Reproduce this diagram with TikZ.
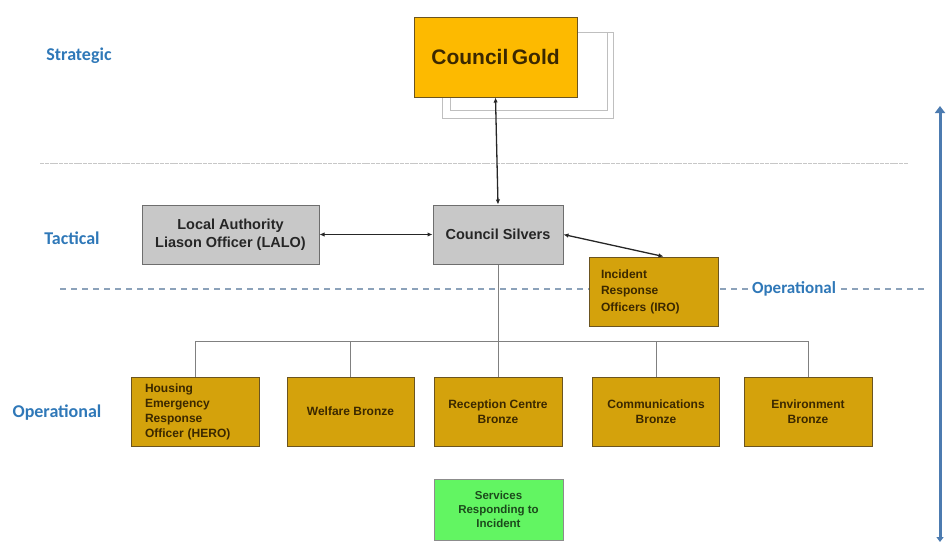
\documentclass[tikz,border=0pt]{standalone}
\usepackage{fontspec}
\setmainfont{Liberation Sans}
\newfontfamily\lblfont{Carlito}
\usetikzlibrary{arrows.meta}
\definecolor{goldfill}{HTML}{FDBA00}
\definecolor{bronzefill}{HTML}{D4A20C}
\definecolor{bronzetext}{HTML}{3B2800}
\definecolor{bronzeedge}{HTML}{6B5420}
\definecolor{greyfill}{HTML}{C8C8C8}
\definecolor{greyedge}{HTML}{6E6E6E}
\definecolor{greenfill}{HTML}{62F562}
\definecolor{greentext}{HTML}{1C4A1C}
\definecolor{lblblue}{HTML}{2F78B8}
\definecolor{barblue}{HTML}{4C7BB0}
\definecolor{dashcol}{HTML}{8CA2BA}
\tikzset{
  box/.style={draw, line width=1pt, inner sep=2pt, align=center},
  goldbox/.style={box, fill=goldfill, draw=bronzeedge, text=bronzetext,
    minimum width=163pt, minimum height=80pt, font=\bfseries\fontsize{21}{24}\selectfont},
  greybox/.style={box, fill=greyfill, draw=greyedge, text=black!85,
    minimum height=59pt, font=\bfseries\fontsize{14.5}{18}\selectfont},
  bronzebox/.style={box, fill=bronzefill, draw=bronzeedge, text=bronzetext,
    minimum width=128pt, minimum height=69pt, font=\bfseries\fontsize{12}{15}\selectfont},
  greenbox/.style={box, fill=greenfill, draw=black!45, text=greentext,
    minimum width=129pt, minimum height=61pt, font=\bfseries\fontsize{11.5}{14}\selectfont},
  tierlabel/.style={text=lblblue, font=\lblfont\bfseries\fontsize{18}{21}\selectfont},
  link/.style={line width=1.3pt, black!85, {Latex[length=5pt,width=4.5pt]}-{Latex[length=5pt,width=4.5pt]}},
  tree/.style={line width=0.9pt, black!50},
}
\begin{document}
\begin{tikzpicture}[x=1pt,y=-1pt]
\useasboundingbox (0,0) rectangle (949,544);
% separator lines
\draw[black!22, line width=1pt, dash pattern=on 4pt off 0.8pt] (40,163) -- (908,163);
\draw[dashcol, line width=1.1pt, dash pattern=on 6pt off 5pt] (60,289) -- (925,289);
% tier labels
\node[tierlabel] (strat) at (79,56) {Strategic};
\node[tierlabel] (tact) at (72,238) {Tactical};
\node[tierlabel] (oper) at (57,413) {Operational};
\node[tierlabel, fill=white, inner sep=1pt, font=\lblfont\bfseries\fontsize{17}{20}\selectfont] (oper2) at (794,289) {Operational};
% shadow outlines behind gold
\draw[black!25, line width=1pt] (442,32) rectangle (613,118);
\draw[black!25, line width=1pt] (450,32) rectangle (607,110);
% nodes
\node[goldbox] (gold) at (495.5,57) {Council\,Gold};
\node[greybox, minimum width=130pt] (silvers) at (498,234.5) {Council Silvers};
\node[greybox, minimum width=177pt] (lalo) at (230.5,234.5) {Local Authority\\Liason Officer (LALO)};
\node[bronzebox, minimum width=129pt, align=left, text width=105pt, font=\bfseries\fontsize{12}{16.5}\selectfont] (iro) at (653.5,291.5) {Incident\\Response\\Officers (IRO)};
\node[bronzebox, align=left, text width=100pt] (hero) at (195,411.5) {Housing\\Emergency\\Response\\Officer (HERO)};
\node[bronzebox, minimum width=127pt] (welfare) at (350.5,411.5) {Welfare Bronze};
\node[bronzebox] (reception) at (498,411.5) {Reception Centre\\Bronze};
\node[bronzebox, minimum width=127pt] (comms) at (656,411.5) {Communications\\Bronze};
\node[bronzebox] (env) at (808,411.5) {Environment\\Bronze};
\node[greenbox] (services) at (498.5,509.5) {Services\\Responding to\\Incident};
% links
\draw[link] (gold.south) -- (silvers.north);
\draw[link] (lalo.east) -- (silvers.west);
\draw[link] (silvers.east) -- ([xshift=10pt]iro.north);
% tree
\coordinate (bus) at (498,341);
\draw[tree] (silvers.south) -- (reception.north);
\draw[tree] (bus -| hero.north) -- (bus -| env.north);
\draw[tree] (bus -| hero.north) -- (hero.north);
\draw[tree] (bus -| welfare.north) -- (welfare.north);
\draw[tree] (bus -| comms.north) -- (comms.north);
\draw[tree] (bus -| env.north) -- (env.north);
% right scale arrow
\coordinate (bartop) at (940,106);
\coordinate (barbot) at (940,542);
\draw[barblue, line width=3pt, {Triangle[length=7pt,width=10pt]}-{Triangle[length=5pt,width=7pt]}] (bartop) -- (barbot);
\end{tikzpicture}
\end{document}
